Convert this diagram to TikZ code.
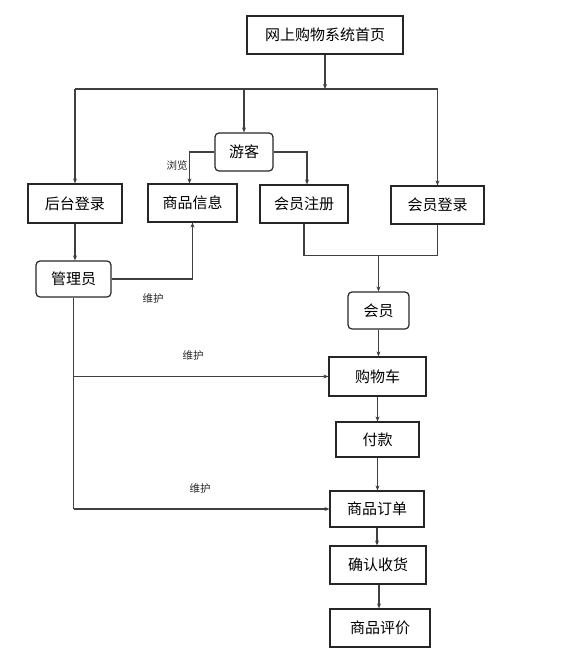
\documentclass[tikz,border=0pt]{standalone}
\usepackage{fontspec}
\setmainfont{Noto Sans CJK SC}
\usetikzlibrary{arrows.meta}

\begin{document}
\begin{tikzpicture}[x=1pt,y=-1pt,
    box/.style={draw=black!85,line width=1.2pt,inner sep=0pt,
      font=\fontsize{15}{15}\selectfont},
    rbox/.style={box,rounded corners=4pt},
    link/.style={draw=black!75,line width=1.1pt},
    arr/.style={link,-{Stealth[length=5pt,width=4pt]}},
    tag/.style={font=\fontsize{10.5}{10.5}\selectfont,text=black!85}]
    \useasboundingbox (0,0) rectangle (570,657);

    % Home page and entries
    \node[box,minimum width=156pt,minimum height=38pt] (home) at (325,35) {网上购物系统首页};
    \node[rbox,minimum width=58pt,minimum height=38pt] (guest) at (244,152) {游客};
    \node[box,minimum width=94pt,minimum height=39pt] (backlogin) at (75,203.5) {后台登录};
    \node[box,minimum width=89pt,minimum height=38pt] (goods) at (192.5,203) {商品信息};
    \node[box,minimum width=88pt,minimum height=38pt] (register) at (304,204) {会员注册};
    \node[box,minimum width=93pt,minimum height=38pt] (memlogin) at (437.5,205) {会员登录};

    % Admin and member
    \node[rbox,minimum width=75pt,minimum height=36pt] (admin) at (73.5,279) {管理员};
    \node[rbox,minimum width=61pt,minimum height=37pt] (member) at (378.5,310.5) {会员};

    % Shopping flow
    \node[box,minimum width=97pt,minimum height=39pt] (cart) at (377.5,376.5) {购物车};
    \node[box,minimum width=83pt,minimum height=35pt] (pay) at (377.5,439.5) {付款};
    \node[box,minimum width=94pt,minimum height=36pt] (order) at (377,509) {商品订单};
    \node[box,minimum width=96pt,minimum height=38pt] (receive) at (378,565) {确认收货};
    \node[box,minimum width=100pt,minimum height=38pt] (review) at (380,628) {商品评价};

    % Labels
    \node[tag] (browse) at (177,166) {浏览};
    \node[tag] (keep1) at (153,299) {维护};
    \node[tag] (keep2) at (193,356) {维护};
    \node[tag] (keep3) at (200,489) {维护};

    % Split under home page
    \coordinate (split) at (325,89);
    \draw[arr] (home) -- (split);
    \draw[link] (backlogin.north |- split) -- (memlogin.north |- split);
    \draw[arr] (backlogin.north |- split) -- (backlogin.north);
    \draw[arr] (guest.north |- split) -- (guest.north);
    \draw[arr] (memlogin.north |- split) -- (memlogin.north);

    % Guest
    \draw[arr] (guest.west) -| ([xshift=-3pt]goods.north);
    \draw[arr] (guest.east) -| ([xshift=3pt]register.north);

    % Admin
    \draw[arr] (backlogin.south) -- (backlogin.south |- admin.north);
    \draw[arr] (admin.east) -| (goods.south);
    \draw[link] (admin.south) -- (admin.south |- order.west);
    \draw[arr] (admin.south |- cart.west) -- (cart.west);
    \draw[arr] (admin.south |- order.west) -- (order.west);

    % Member
    \coordinate (merge) at ([yshift=36pt]member.north);
    \draw[link] (register.south) |- (memlogin.south |- merge) -- (memlogin.south);
    \draw[arr] (merge) -- (member.north);
    \draw[arr] (member) -- (member.south |- cart.north);

    % Order flow
    \draw[arr] (cart) -- (cart.south |- pay.north);
    \draw[arr] (pay) -- (pay.south |- order.north);
    \draw[arr] (order) -- (order.south |- receive.north);
    \draw[arr] ([xshift=1pt]receive.south) -- ([xshift=1pt]receive.south |- review.north);
\end{tikzpicture}
\end{document}
